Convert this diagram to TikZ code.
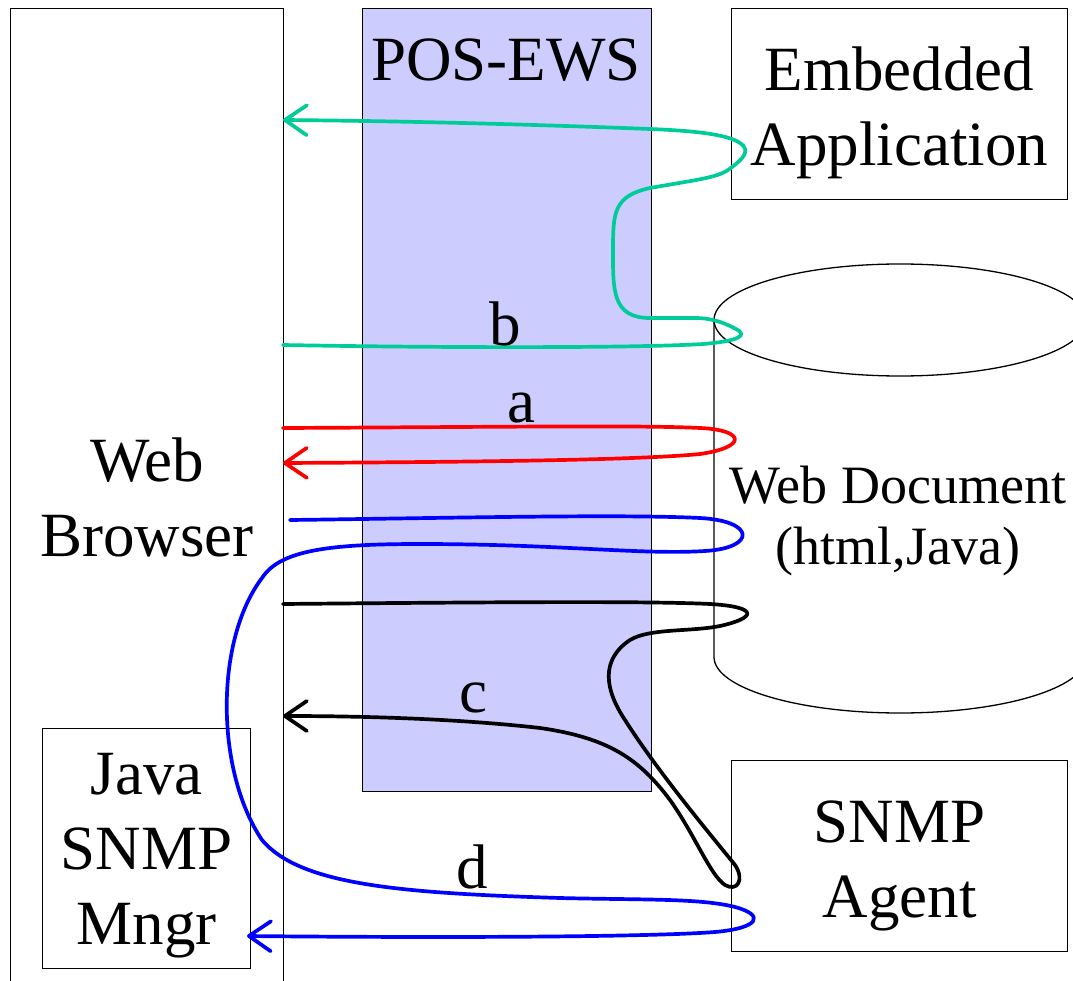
\documentclass[tikz,border=0pt]{standalone}
\usepackage{fontspec}
\setmainfont{Liberation Serif}
\usetikzlibrary{arrows.meta}
\definecolor{ewsfill}{RGB}{204,204,255}
\definecolor{flowgreen}{RGB}{0,204,153}
\definecolor{flowred}{RGB}{255,0,0}
\definecolor{flowblue}{RGB}{0,0,255}
\newcommand\diagbig{\fontsize{63}{75}\selectfont}
\newcommand\diagmid{\fontsize{54}{61}\selectfont}
\begin{document}
\begin{tikzpicture}[x=1pt,y=-1pt,
  box/.style={draw=black, line width=1.3pt, inner sep=0pt, anchor=north west},
  txt/.style={align=center, font=\diagbig, inner sep=0pt},
  outline/.style={draw=black, line width=1.3pt},
  flow/.style={line width=3.7pt, line cap=round, line join=round},
  tipped/.style={-{Straight Barb[round,length=22pt,width=30pt]}},
  lbl/.style={anchor=base, font=\diagbig, inner sep=0pt}]
\useasboundingbox (0,0) rectangle (1073,981);

% POS-EWS server column
\node[box, fill=ewsfill, minimum width=289pt, minimum height=783pt] (ews) at (362,8) {};
\node[lbl] (ewslabel) at (506,81) {POS-EWS};

% web browser column (runs off the bottom)
\node[box, minimum width=273pt, minimum height=984pt] (browser) at (10,8) {};
\node[txt] (browsertext) at ([yshift=3pt]browser.center) {Web\\Browser};

% embedded application
\node[box, minimum width=336pt, minimum height=191pt] (app) at (731,8) {};
\node[txt] (apptext) at ([yshift=-9pt]app.center) {Embedded\\Application};

% SNMP agent
\node[box, minimum width=336pt, minimum height=191pt] (agent) at (731,760) {};
\node[txt] (agenttext) at ([yshift=-10pt]agent.center) {SNMP\\Agent};

% Java SNMP manager
\node[box, minimum width=208pt, minimum height=240pt] (mngr) at (42,728) {};
\node[txt] (mngrtext) at ([yshift=-7pt]mngr.center) {Java\\SNMP\\Mngr};

% web document store (cylinder)
\draw[outline] (900,320) ellipse [x radius=186, y radius=56];
\draw[outline] (714,320) -- (714,657) arc [start angle=180, end angle=0, x radius=186, y radius=56] -- (1086,320);
\node[align=center, font=\diagmid, inner sep=0pt] (doc) at (898,521) {Web Document\\(html,Java)};

% end points of the flows on the browser edge
\coordinate (bOut) at (283,345);
\coordinate (bIn)  at (283,120);
\coordinate (aOut) at (283,428);
\coordinate (aIn)  at (283,463);
\coordinate (dOut) at (290,520);
\coordinate (dIn)  at (247,936);
\coordinate (cOut) at (283,604);
\coordinate (cIn)  at (283,716);

% flow b: browser -> document -> application -> browser
\draw[flow, flowgreen, tipped] (bOut)
  .. controls (450,348) and (640,348) .. (703,344)
  .. controls (740,341) and (748,335) .. (736,329)
  .. controls (725,323) and (712,318) .. (695,318)
  -- (650,318)
  .. controls (612,318) and (613,290) .. (613,250)
  .. controls (613,212) and (614,196) .. (650,188)
  .. controls (695,180) and (716,178) .. (728,170)
  .. controls (742,160) and (752,151) .. (740,143)
  .. controls (728,135) and (700,131) .. (650,129)
  .. controls (520,124) and (400,121) .. (bIn);

% flow a: browser -> document -> browser
\draw[flow, flowred, tipped] (aOut)
  .. controls (500,427) and (640,425) .. (700,428)
  .. controls (745,430) and (748,447) .. (700,454)
  .. controls (640,460) and (480,462) .. (aIn);

% flow d: browser -> document -> manager -> agent -> manager
\draw[flow, flowblue, tipped] (dOut)
  .. controls (450,518) and (620,514) .. (700,518)
  .. controls (756,521) and (756,548) .. (705,551)
  .. controls (640,555) and (560,544) .. (420,544)
  .. controls (330,544) and (280,550) .. (262,578)
  .. controls (215,640) and (215,770) .. (262,840)
  .. controls (300,885) and (400,893) .. (560,898)
  .. controls (640,900) and (700,898) .. (735,907)
  .. controls (765,915) and (760,928) .. (715,932)
  .. controls (650,937) and (450,938) .. (dIn);

% flow c: browser -> document -> agent -> browser
\draw[flow, black, tipped] (cOut)
  .. controls (500,602) and (650,601) .. (710,604)
  .. controls (760,607) and (756,618) .. (720,626)
  .. controls (690,632) and (650,628) .. (630,640)
  .. controls (600,660) and (605,690) .. (625,720)
  .. controls (660,775) and (715,840) .. (735,865)
  .. controls (745,880) and (737,892) .. (725,885)
  .. controls (710,875) and (695,835) .. (670,800)
  .. controls (640,760) and (610,738) .. (540,728)
  .. controls (470,720) and (380,716) .. (cIn);

% flow labels
\node[lbl] (la) at (521,422) {a};
\node[lbl] (lb) at (505,345) {b};
\node[lbl] (lc) at (473,712) {c};
\node[lbl] (ld) at (472,888) {d};
\end{tikzpicture}
\end{document}
